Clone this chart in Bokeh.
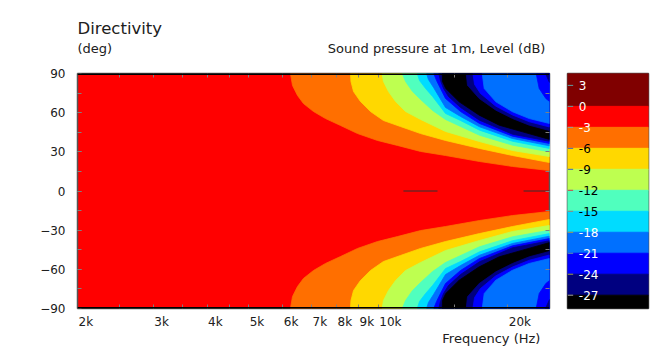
from bokeh.plotting import figure
from bokeh.models import Range1d, FixedTicker, LogAxis, LinearAxis, Span
from bokeh.layouts import row, column
from bokeh.embed import file_html
from bokeh.resources import INLINE
from bokeh.core.properties import value

FONT = "DejaVu Sans"
TEXT = "#202020"

# ---------------- axes data ----------------
freq_range = [2000, 25000]
angle_range = [-90, 90]
freq_label_values = [2000, 3000, 4000, 5000, 6000, 7000, 8000, 9000, 10000, 20000]
freq_label_texts = ["2k", "3k", "4k", "5k", "6k", "7k", "8k", "9k", "10k", "20k"]
freq_tick_values = [2500, 3000, 3500, 4000, 4500, 5000, 6000, 7000, 8000, 9000, 10000, 15000, 20000]
angle_label_values = [90, 60, 30, 0, -30, -60, -90]
angle_tick_values = [75, 60, 45, 30, 15, 0, -15, -30, -45, -60, -75]

# ---------------- levels / colours ----------------
level_values = [0, -3, -6, -9, -12, -15, -18, -21, -24, -27]
level_colors = ["#800000", "#FF0000", "#FF6F00", "#FFD800", "#BEFF50", "#50FFBE",
                "#00DCFF", "#0070FF", "#0000FF", "#000080", "#000000"]
colorbar_range = [-28.9, 4.7]
colorbar_label_values = [3, 0, -3, -6, -9, -12, -15, -18, -21, -24, -27]
colorbar_label_colors = ["white", "white", "white", "black", "black", "black", "black",
                         "white", "white", "white", "white"]
colorbar_tick_colors = ["#5f9ea0", "#5f9ea0", "#8fa0a0", "#4060c0", "#4060c0", "#d04040",
                        "#a08070", "#b0a040", "#60a0a0", "#a0a040", "#a0a0a0"]

# ---------------- contour boundaries (upper half, mirrored below) ----------------
# falling side: level drops below the given value beyond the curve
m3_f = [6250, 6320, 6490, 6700, 7070, 7540, 8170, 8950, 9960, 11080, 12540, 14330, 17190, 20510, 25000]
m3_a = [90, 80.8, 73.2, 67.0, 60.9, 55.5, 50.2, 44.0, 38.7, 34.9, 30.3, 27.2, 22.6, 18.8, 15.7]
m6_f = [8620, 8640, 8760, 9090, 9590, 10280, 11260, 12540, 14330, 17190, 20510, 25000]
m6_a = [90, 83.9, 76.2, 68.6, 60.9, 54.0, 49.4, 44.0, 38.7, 32.6, 27.2, 21.8]
m9_f = [10210, 10280, 10560, 10970, 11570, 12540, 14330, 17190, 20510, 25000]
m9_a = [90, 83.9, 76.2, 68.6, 60.9, 54.8, 45.6, 37.9, 31.0, 26.4]
m12_f = [11370, 11570, 12010, 12540, 13370, 14330, 17190, 20510, 25000]
m12_a = [90, 83.9, 76.2, 70.1, 61.7, 54.8, 42.7, 35.1, 30.0]
m15_f = [12320, 12470, 12880, 13370, 14330, 15530, 17190, 20510, 25000]
m15_a = [90, 84.6, 78.5, 72.4, 59.4, 54.0, 46.6, 38.1, 32.6]
m18_f = [12950, 13080, 13440, 14330, 15530, 17190, 20510, 25000]
m18_a = [90, 85.4, 79.3, 64.0, 57.1, 49.2, 40.2, 34.6]
m21_f = [13460, 13660, 13950, 14330, 15530, 17190, 20510, 25000]
m21_a = [90, 84.6, 78.5, 70.9, 60.9, 51.7, 42.0, 36.4]
m24_f = [13820, 13950, 14180, 14560, 15530, 17190, 20510, 25000]
m24_a = [90, 84.6, 78.5, 72.4, 64.0, 54.2, 43.5, 38.1]
m27_f = [14080, 14100, 14350, 15420, 17160, 19100, 21640, 25000]
m27_a = [90, 83.9, 78.5, 68.3, 58.1, 50.4, 45.3, 39.5]
# rising side: level comes back up beyond the curve
r27_f = [16010, 16120, 17160, 18760, 20510, 22430, 25000]
r27_a = [90, 81.0, 70.9, 61.9, 55.5, 50.4, 46.3]
r24_f = [16590, 16740, 17280, 18730, 20510, 22460, 25000]
r24_a = [90, 81.6, 74.7, 65.1, 58.2, 53.0, 49.0]
r21_f = [17440, 17630, 18760, 20510, 22430, 25000]
r21_a = [90, 78.5, 68.3, 60.7, 55.5, 51.7]
rb_f = [23280, 23660, 24510, 25000]
rb_a = [90, 78.5, 70.9, 68.6]
rc_f = [24470, 25000]
rc_a = [90, 83.1]

# short null lines on axis (0 deg)
null_f0 = [11440, 21760]
null_f1 = [13730, 25000]

regions = [
    (m3_f, m3_a, 2), (m6_f, m6_a, 3), (m9_f, m9_a, 4), (m12_f, m12_a, 5),
    (m15_f, m15_a, 6), (m18_f, m18_a, 7), (m21_f, m21_a, 8), (m24_f, m24_a, 9),
    (m27_f, m27_a, 10), (r27_f, r27_a, 9), (r24_f, r24_a, 8), (r21_f, r21_a, 7),
    (rb_f, rb_a, 8), (rc_f, rc_a, 9),
]

x_rng = Range1d(*freq_range)


def strip(height):
    f = figure(x_axis_type="log", x_range=x_rng, y_range=Range1d(0, 1),
               frame_width=472, frame_height=height, min_border_left=77, min_border_right=11,
               min_border_top=0, min_border_bottom=0, toolbar_location=None,
               output_backend="svg", x_axis_location=None, y_axis_location=None)
    f.xgrid.visible = False
    f.ygrid.visible = False
    f.outline_line_color = None
    return f


# ---------------- header ----------------
header = strip(62)
header.text(x=[freq_range[0]], y=[0.55], text=["Directivity"], text_align="left",
            text_baseline="middle", text_font=value(FONT), text_font_size="16.5px",
            text_color=TEXT)
header.text(x=[freq_range[0]], y=[0.23], text=["(deg)"], text_align="left",
            text_baseline="middle", text_font=value(FONT), text_font_size="13px",
            text_color=TEXT)
header.text(x=[freq_range[1]], y=[0.23], text=["Sound pressure at 1m, Level  (dB)"],
            text_align="right", text_baseline="middle", text_font=value(FONT),
            text_font_size="13px", text_color=TEXT, x_offset=0)

# ---------------- main plot ----------------
p = figure(x_axis_type="log", x_range=x_rng, y_range=Range1d(*angle_range),
           frame_width=472, frame_height=235, min_border_left=77, min_border_right=11,
           min_border_top=11, min_border_bottom=7, toolbar_location=None,
           output_backend="svg", x_axis_location=None, y_axis_location=None)
p.xgrid.visible = False
p.ygrid.visible = False
p.background_fill_color = level_colors[1]
p.outline_line_color = "#555555"
p.outline_line_width = 1.5

for f, a, ci in regions:
    xs = list(f) + [freq_range[1]]
    ys = list(a) + [angle_range[1]]
    ys_low = [-v for v in ys]
    col = level_colors[ci]
    p.patches([xs, xs], [ys, ys_low], fill_color=col, line_color=col, line_width=0.8)

p.segment(x0=null_f0, y0=[0] * len(null_f0), x1=null_f1, y1=[0] * len(null_f1),
          line_color="#303030", line_width=1)

for loc in angle_range:
    p.add_layout(Span(location=loc, dimension="width", line_color="black", line_width=3))

TICK = "#808080"


def style(ax, major_in=0):
    ax.axis_line_color = None
    ax.major_tick_in = major_in
    ax.major_tick_out = 0
    ax.minor_tick_in = 4
    ax.minor_tick_out = 0
    ax.major_tick_line_color = TICK
    ax.minor_tick_line_color = TICK


bottom = LogAxis(ticker=FixedTicker(ticks=[], minor_ticks=freq_tick_values))
style(bottom)
p.add_layout(bottom, "below")
top = LogAxis(ticker=FixedTicker(ticks=[], minor_ticks=freq_tick_values))
style(top)
p.add_layout(top, "above")

left = LinearAxis(ticker=FixedTicker(ticks=angle_label_values, minor_ticks=angle_tick_values))
style(left, major_in=4)
left.major_label_text_font = FONT
left.major_label_text_font_size = "12px"
left.major_label_text_color = TEXT
left.major_label_standoff = 12
p.add_layout(left, "left")
right = LinearAxis(ticker=FixedTicker(ticks=[], minor_ticks=angle_tick_values))
style(right)
p.add_layout(right, "right")

# ---------------- footer ----------------
footer = strip(36)
footer.text(x=freq_label_values, y=[0.83] * len(freq_label_values), text=freq_label_texts,
            text_align="left", text_baseline="middle", text_font=value(FONT),
            text_font_size="12px", text_color=TEXT, x_offset=1)
footer.text(x=[freq_range[1]], y=[0.36], text=["Frequency  (Hz)"], text_align="right",
            text_baseline="middle", text_font=value(FONT), text_font_size="13px",
            text_color=TEXT, x_offset=-5)

# ---------------- colour bar ----------------
cb = figure(x_range=Range1d(0, 1), y_range=Range1d(*colorbar_range),
            frame_width=81, frame_height=235, min_border_left=7, min_border_right=18,
            min_border_top=73, min_border_bottom=43, toolbar_location=None,
            output_backend="svg", x_axis_location=None, y_axis_location=None)
cb.xgrid.visible = False
cb.ygrid.visible = False
cb.outline_line_color = "#555555"
cb.outline_line_width = 1.5
tops = [colorbar_range[1]] + level_values
bottoms = level_values + [colorbar_range[0]]
cb.quad(left=0, right=1, top=tops, bottom=bottoms, fill_color=level_colors,
        line_color=level_colors)
cb.segment(x0=[0] * len(colorbar_label_values), x1=[0.07] * len(colorbar_label_values),
           y0=colorbar_label_values, y1=colorbar_label_values,
           line_color=colorbar_tick_colors, line_width=1)
cb.text(x=[0.14] * len(colorbar_label_values), y=colorbar_label_values,
        text=[str(v) for v in colorbar_label_values], text_color=colorbar_label_colors,
        text_font=value(FONT), text_font_size="12px", text_baseline="middle", text_align="left")

layout = row(column(header, p, footer), cb)
open("out.html", "w").write(file_html(layout, INLINE))
